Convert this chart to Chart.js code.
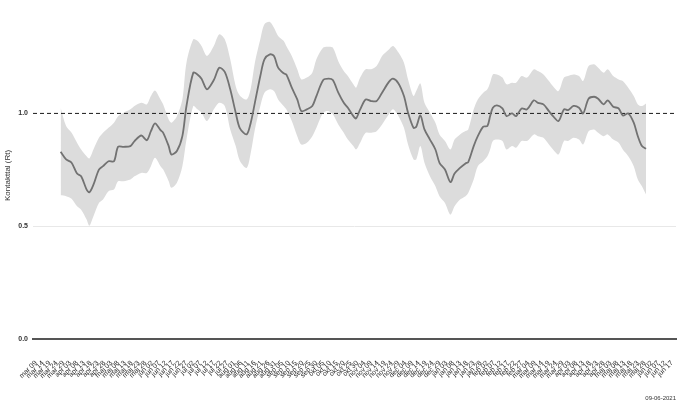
<!DOCTYPE html>
<html><head><meta charset="utf-8">
<script src="https://cdn.jsdelivr.net/npm/chart.js@4"></script>
<style>html,body{margin:0;padding:0;background:#fff}#wrap{width:680px;height:408px;position:relative}</style>
</head><body><div id="wrap"><canvas id="c"></canvas></div>
<script>
// Tick labels every 5 days starting 2020-03-09 (Danish month names)
const tickStep = 5;
const tickLabels = [
 'mar 09','mar 14','mar 19','mar 24','mar 29',
 'apr 03','apr 08','apr 13','apr 18','apr 23','apr 28',
 'maj 03','maj 08','maj 13','maj 18','maj 23','maj 28',
 'jun 02','jun 07','jun 12','jun 17','jun 22','jun 27',
 'jul 02','jul 07','jul 12','jul 17','jul 22','jul 27',
 'aug 01','aug 06','aug 11','aug 16','aug 21','aug 26','aug 31',
 'sep 05','sep 10','sep 15','sep 20','sep 25','sep 30',
 'okt 05','okt 10','okt 15','okt 20','okt 25','okt 30',
 'nov 04','nov 09','nov 14','nov 19','nov 24','nov 29',
 'dec 04','dec 09','dec 14','dec 19','dec 24','dec 29',
 'jan 03','jan 08','jan 13','jan 18','jan 23','jan 28',
 'feb 02','feb 07','feb 12','feb 17','feb 22','feb 27',
 'mar 04','mar 09','mar 14','mar 19','mar 24','mar 29',
 'apr 03','apr 08','apr 13','apr 18','apr 23','apr 28',
 'maj 03','maj 08','maj 13','maj 18','maj 23','maj 28',
 'jun 02','jun 07','jun 12','jun 17'
];
// Days since 2020-03-09 of each sampled estimate
const days = [18,22,26,30,33,37,39,42,46,49,53,57,60,64,69,72,77,81,84,87,91,93,97,99,103,107,110,115,118,121,125,130,134,138,142,146,149,154,157,160,164,167,171,174,177,181,183,187,191,194,198,202,205,210,214,217,221,225,228,232,234,237,241,245,249,253,258,261,265,269,272,276,278,281,284,288,292,295,299,303,306,310,314,316,320,323,327,330,332,334,337,341,344,348,351,355,359,364,367,371,375,378,382,386,389,393,397,400,404,408,411,415,418,422,426,429,433,437,440,443,446];
const rt = [0.830,0.796,0.781,0.733,0.721,0.662,0.650,0.684,0.751,0.766,0.788,0.788,0.852,0.852,0.855,0.877,0.902,0.881,0.921,0.956,0.926,0.914,0.855,0.818,0.833,0.899,1.033,1.181,1.173,1.154,1.107,1.148,1.203,1.184,1.107,1.003,0.935,0.907,0.959,1.047,1.166,1.240,1.262,1.255,1.203,1.178,1.173,1.114,1.062,1.010,1.018,1.033,1.077,1.148,1.154,1.148,1.092,1.047,1.025,0.988,0.978,1.018,1.062,1.055,1.055,1.092,1.140,1.154,1.133,1.077,1.003,0.936,0.941,0.991,0.929,0.884,0.840,0.781,0.751,0.695,0.733,0.758,0.778,0.784,0.855,0.899,0.941,0.944,0.988,1.025,1.036,1.022,0.988,1.000,0.988,1.022,1.018,1.058,1.047,1.040,1.010,0.988,0.966,1.018,1.015,1.033,1.025,1.000,1.065,1.074,1.065,1.040,1.058,1.030,1.022,0.991,1.000,0.959,0.899,0.855,0.843];
const rtLow = [0.637,0.633,0.621,0.588,0.573,0.529,0.502,0.544,0.603,0.618,0.655,0.662,0.699,0.699,0.707,0.721,0.736,0.736,0.766,0.803,0.766,0.751,0.699,0.670,0.692,0.766,0.884,1.033,1.018,1.003,0.966,1.018,1.047,1.033,0.929,0.855,0.790,0.758,0.825,0.929,1.033,1.092,1.107,1.099,1.062,1.033,1.018,0.966,0.899,0.862,0.870,0.899,0.936,1.003,1.010,0.996,0.951,0.914,0.884,0.855,0.840,0.870,0.914,0.914,0.921,0.951,0.996,1.018,0.988,0.936,0.862,0.796,0.796,0.855,0.781,0.721,0.677,0.633,0.603,0.551,0.588,0.618,0.633,0.647,0.707,0.766,0.788,0.810,0.840,0.878,0.884,0.878,0.840,0.855,0.848,0.878,0.878,0.907,0.899,0.892,0.862,0.840,0.818,0.878,0.878,0.892,0.884,0.862,0.921,0.929,0.914,0.899,0.907,0.884,0.870,0.840,0.810,0.766,0.707,0.677,0.640];
const rtHigh = [1.025,0.944,0.914,0.870,0.840,0.810,0.800,0.840,0.892,0.914,0.936,0.959,0.988,1.003,1.018,1.033,1.047,1.040,1.077,1.102,1.062,1.040,0.973,0.959,0.988,1.062,1.225,1.329,1.322,1.299,1.255,1.299,1.351,1.329,1.240,1.121,1.080,1.062,1.111,1.225,1.329,1.396,1.406,1.380,1.344,1.322,1.299,1.255,1.196,1.151,1.159,1.181,1.240,1.292,1.296,1.292,1.232,1.188,1.166,1.129,1.114,1.159,1.196,1.196,1.210,1.255,1.284,1.299,1.270,1.225,1.151,1.077,1.099,1.133,1.047,1.003,0.959,0.907,0.878,0.840,0.884,0.907,0.922,0.929,1.018,1.062,1.092,1.107,1.136,1.173,1.173,1.159,1.129,1.136,1.136,1.166,1.159,1.196,1.188,1.173,1.144,1.121,1.099,1.159,1.166,1.173,1.166,1.144,1.210,1.218,1.203,1.181,1.196,1.166,1.151,1.144,1.114,1.077,1.040,1.033,1.044];
const refLevel = 1.0;
const yTickValues = [0, 0.5, 1.0];
const xMin = -2.2, xMax = 467.9, yMin = 0, yMax = 1.45;
const footerText = '09-06-2021';
const yTitle = 'Kontakttal (Rt)';

const FONT = "'Liberation Sans', Arial, Helvetica, sans-serif";
const pts = arr => days.map((d, i) => ({x: d, y: arr[i]}));

new Chart(document.getElementById('c'), {
  type: 'line',
  data: {
    datasets: [
      {label: 'Rt', data: pts(rt), borderColor: '#727272', borderWidth: 1.8, pointRadius: 0, tension: 0.3, fill: false},
      {label: 'ref', data: [{x: xMin, y: refLevel}, {x: xMax, y: refLevel}], borderColor: '#1a1a1a', borderWidth: 1, borderDash: [4, 3], pointRadius: 0, fill: false},
      {label: 'upper', data: pts(rtHigh), borderWidth: 0, borderColor: 'rgba(0,0,0,0)', pointRadius: 0, tension: 0.3, fill: '+1', backgroundColor: '#dcdcdc'},
      {label: 'lower', data: pts(rtLow), borderWidth: 0, borderColor: 'rgba(0,0,0,0)', pointRadius: 0, tension: 0.3, fill: false}
    ]
  },
  options: {
    responsive: true, maintainAspectRatio: false, animation: false,
    layout: {padding: {top: 12, right: 4, left: 0, bottom: 0}},
    plugins: {
      legend: {display: false}, tooltip: {enabled: false},
      title: {display: true, position: 'bottom', align: 'end', text: footerText, color: '#333', font: {family: FONT, size: 6, weight: 'normal'}, padding: {top: 0, bottom: 6}}
    },
    scales: {
      x: {
        type: 'linear', min: xMin, max: xMax,
        afterBuildTicks: s => { s.ticks = tickLabels.map((_, i) => ({value: i * tickStep})); },
        afterFit: s => { s.height = 56; s.paddingLeft = 0; s.paddingRight = 0; },
        ticks: {autoSkip: false, minRotation: 45, maxRotation: 45, padding: 20, color: '#2a2a2a', font: {family: FONT, size: 7}, callback: (v, i) => tickLabels[i]},
        grid: {display: false, drawTicks: false},
        border: {display: true, color: '#555', width: 2}
      },
      y: {
        min: yMin, max: yMax,
        afterBuildTicks: s => { s.ticks = yTickValues.map(v => ({value: v})); },
        afterFit: s => { s.width = 33; s.paddingTop = 0; s.paddingBottom = 0; },
        ticks: {padding: 5, color: '#333', font: {family: FONT, size: 7, weight: 'bold'}, callback: v => Number(v).toFixed(1)},
        grid: {drawTicks: false, color: c => (c.tick && c.tick.value === 0.5) ? '#e8e8e8' : 'rgba(0,0,0,0)', lineWidth: 1},
        border: {display: false},
        title: {display: true, text: yTitle, color: '#333', font: {family: FONT, size: 8}, padding: {top: 3, bottom: 0}}
      }
    }
  }
});
</script></body></html>
